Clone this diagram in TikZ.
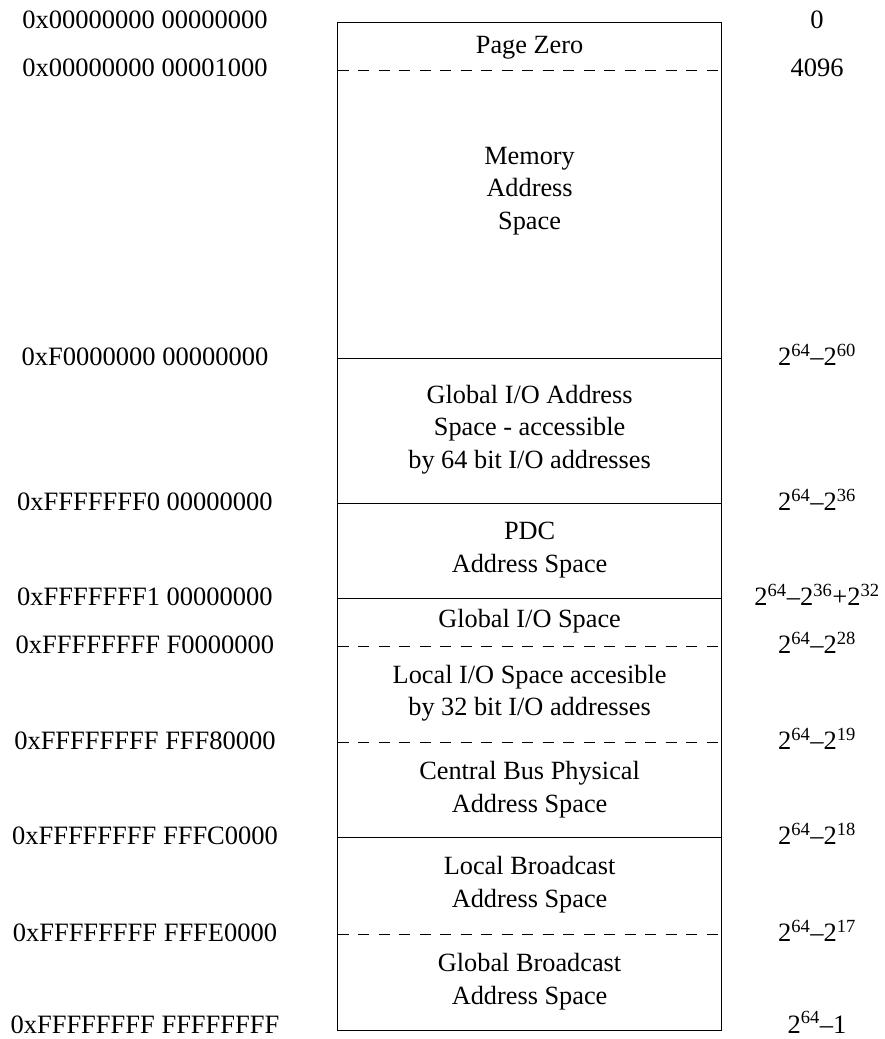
\documentclass[tikz,border=0pt]{standalone}
\usepackage{fontspec}
\setmainfont{Liberation Serif}
\begin{document}
\begin{tikzpicture}[x=1pt,y=-1pt,
  lbl/.style={anchor=base, inner sep=0pt, font=\fontsize{26.5}{32.3}\selectfont},
  txt/.style={anchor=base, inner sep=0pt, align=center, font=\fontsize{26.3}{32.3}\selectfont},
  sep/.style={line width=1pt},
  dsep/.style={line width=1pt, dash pattern=on 11pt off 9.5pt}]
\useasboundingbox (0,0) rectangle (884,1039);
% box
\coordinate (L) at (337.7,0);
\coordinate (R) at (721.5,0);
\draw[sep] (337.7,22.7) rectangle (721.5,1030);
\draw[dsep] (L |- 0,70.7)  -- (R |- 0,70.7);
\draw[sep]  (L |- 0,358.3) -- (R |- 0,358.3);
\draw[sep]  (L |- 0,503.5) -- (R |- 0,503.5);
\draw[sep]  (L |- 0,598.3) -- (R |- 0,598.3);
\draw[dsep] (L |- 0,646.7) -- (R |- 0,646.7);
\draw[dsep] (L |- 0,742.3) -- (R |- 0,742.3);
\draw[sep]  (L |- 0,837.5) -- (R |- 0,837.5);
\draw[dsep] (L |- 0,934.5) -- (R |- 0,934.5);
% region texts (anchor = baseline of the last line)
\node[txt] (pz)  at (529.6,53)    {Page Zero};
\node[txt] (mem) at (529.6,229)   {Memory\\Address\\Space};
\node[txt] (gio) at (529.6,468)   {Global I/O Address\\Space - accessible\\by 64 bit I/O addresses};
\node[txt] (pdc) at (529.6,572)   {PDC\\Address Space};
\node[txt] (gis) at (529.6,627.7) {Global I/O Space};
\node[txt] (lio) at (529.6,715.7) {Local I/O Space accesible\\by 32 bit I/O addresses};
\node[txt] (cbp) at (529.6,812)   {Central Bus Physical\\Address Space};
\node[txt] (lbc) at (529.6,907)   {Local Broadcast\\Address Space};
\node[txt] (gbc) at (529.6,1004)  {Global Broadcast\\Address Space};
% left labels
\node[lbl] (a0) at (145,28)     {0x00000000 00000000};
\node[lbl] (a1) at (145,76)     {0x00000000 00001000};
\node[lbl] (a2) at (145,365.3)  {0xF0000000 00000000};
\node[lbl] (a3) at (145,510.5)  {0xFFFFFFF0 00000000};
\node[lbl] (a4) at (145,605.3)  {0xFFFFFFF1 00000000};
\node[lbl] (a5) at (145,653.5)  {0xFFFFFFFF F0000000};
\node[lbl] (a6) at (145,749.3)  {0xFFFFFFFF FFF80000};
\node[lbl] (a7) at (145,844.5)  {0xFFFFFFFF FFFC0000};
\node[lbl] (a8) at (145,941.5)  {0xFFFFFFFF FFFE0000};
\node[lbl] (a9) at (145,1033)   {0xFFFFFFFF FFFFFFFF};
% right labels
\node[lbl] (b0) at (817,28)     {0};
\node[lbl] (b1) at (817,76)     {4096};
\node[lbl] (b2) at (817,365.3)  {2\textsuperscript{64}–2\textsuperscript{60}};
\node[lbl] (b3) at (817,510.5)  {2\textsuperscript{64}–2\textsuperscript{36}};
\node[lbl] (b4) at (817,605.3)  {2\textsuperscript{64}–2\textsuperscript{36}+2\textsuperscript{32}};
\node[lbl] (b5) at (817,653.5)  {2\textsuperscript{64}–2\textsuperscript{28}};
\node[lbl] (b6) at (817,749.3)  {2\textsuperscript{64}–2\textsuperscript{19}};
\node[lbl] (b7) at (817,844.5)  {2\textsuperscript{64}–2\textsuperscript{18}};
\node[lbl] (b8) at (817,941.5)  {2\textsuperscript{64}–2\textsuperscript{17}};
\node[lbl] (b9) at (817,1033)   {2\textsuperscript{64}–1};
\end{tikzpicture}
\end{document}
